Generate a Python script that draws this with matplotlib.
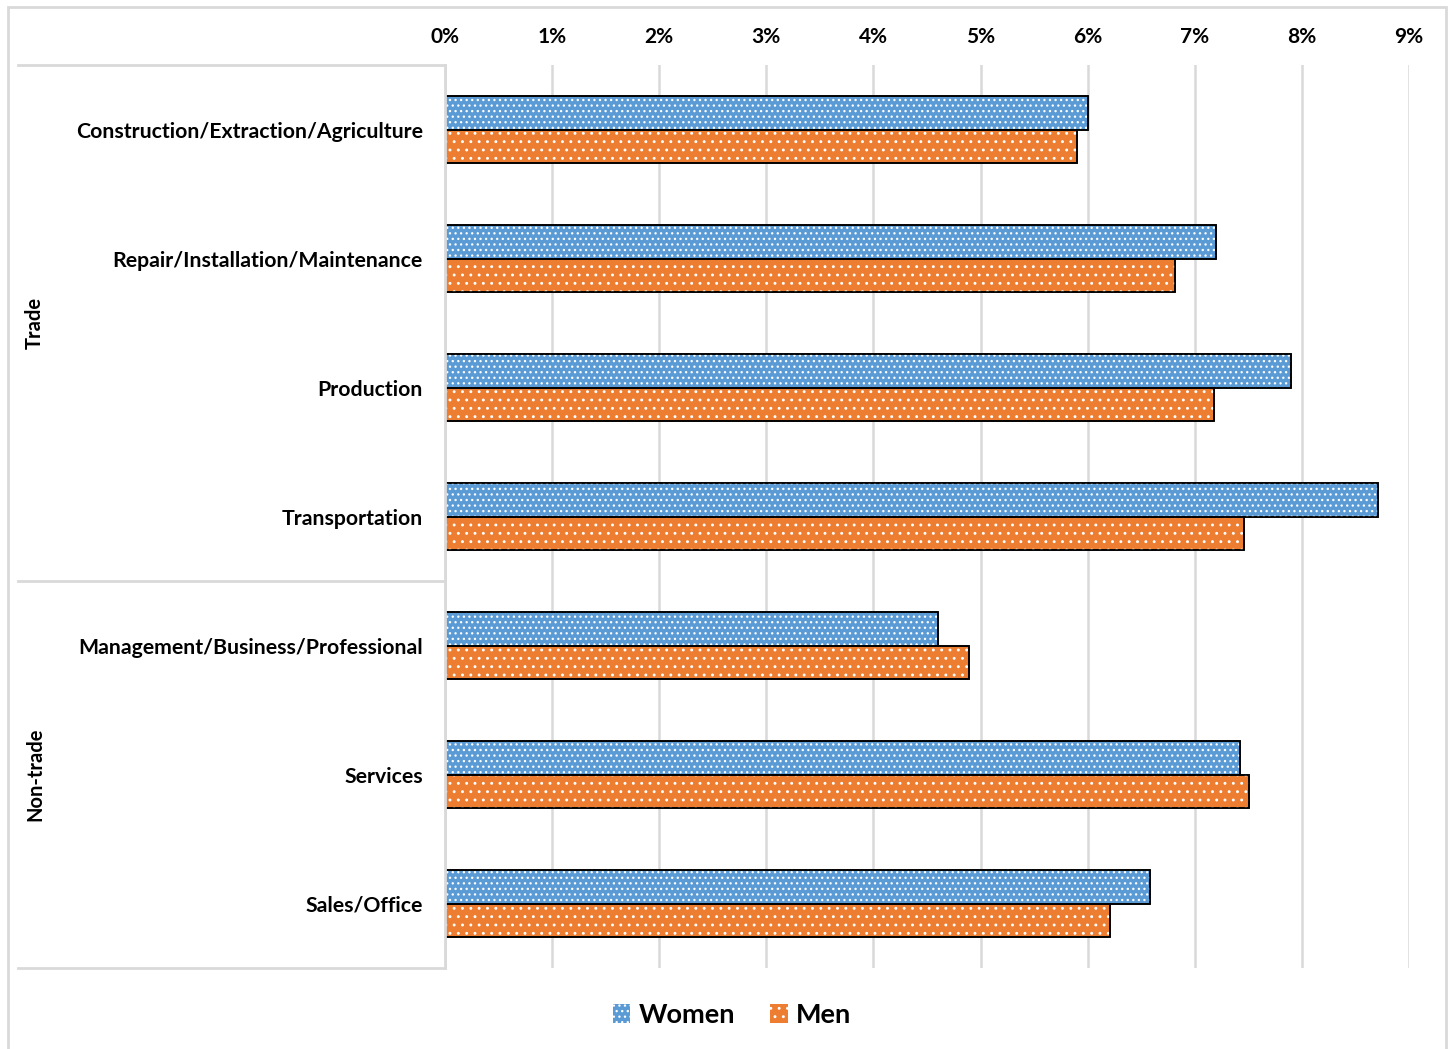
import numpy as np
import matplotlib.pyplot as plt
from matplotlib.patches import Rectangle
from matplotlib.ticker import PercentFormatter

plt.rcParams['font.family'] = ['Lato', 'DejaVu Sans']
plt.rcParams['hatch.linewidth'] = 0.9

# Данные
categories = ["Construction/Extraction/Agriculture", "Repair/Installation/Maintenance",
              "Production", "Transportation",
              "Management/Business/Professional", "Services", "Sales/Office"]
groups = ["Trade", "Non-trade"]
group_sizes = [4, 3]
women = [6.0, 7.2, 7.9, 8.71, 4.6, 7.42, 6.58]
men = [5.9, 6.82, 7.18, 7.46, 4.89, 7.51, 6.21]

blue = '#5B9BD5'
orange = '#ED7D31'
grey = '#D9D9D9'

W, H = 1448, 1049
fig = plt.figure(figsize=(W / 100, H / 100), dpi=100)

# рамка всей диаграммы
fig.patches.append(Rectangle((8 / W, -0.05), (1446 - 8) / W, 1.05 - 7 / H,
                             transform=fig.transFigure, fill=False,
                             edgecolor=grey, linewidth=2))

ax = fig.add_axes([445 / W, (H - 968) / H, 964 / W, 903 / H])

y = np.arange(len(categories))
h = 0.26


def hatched_bars(ypos, vals, color, hatch, label):
    ax.barh(ypos, vals, height=h, color=color, edgecolor='black', linewidth=1.2, zorder=3)
    ax.barh(ypos, vals, height=h, fill=False, hatch=hatch, edgecolor='white',
            linewidth=0, zorder=4)
    ax.barh(ypos, vals, height=h, fill=False, edgecolor='black', linewidth=1.2, zorder=5)
    # элемент легенды
    return Rectangle((0, 0), 1, 1, facecolor=color, hatch=hatch, edgecolor='white',
                     linewidth=0, label=label)


hw = hatched_bars(y - h / 2, women, blue, '...', 'Women')
hm = hatched_bars(y + h / 2, men, orange, '..', 'Men')

ax.set_xlim(0, 9)
ax.set_ylim(len(categories) - 0.5, -0.5)
ax.xaxis.set_major_formatter(PercentFormatter(decimals=0))
ax.set_xticks(range(10))
ax.xaxis.tick_top()
ax.tick_params(axis='x', length=0, pad=13, labelsize=15)
ax.tick_params(axis='y', length=0, pad=16, labelsize=15.3)
for lab in ax.get_xticklabels() + ax.get_yticklabels():
    lab.set_fontweight('bold')
ax.set_yticks(y)
ax.set_yticklabels(categories)
ax.grid(axis='x', color=grey, linewidth=1.8, zorder=0)
ax.set_axisbelow(True)
for s in ['top', 'right', 'bottom']:
    ax.spines[s].set_visible(False)
ax.spines['left'].set_color(grey)
ax.spines['left'].set_linewidth(2)
ax.spines['left'].set_zorder(6)

# разделители групп и подписи групп
x_left = (18 - 445) / 964
trans = ax.get_yaxis_transform()
bounds = np.concatenate([[0], np.cumsum(group_sizes)]) - 0.5
for b in bounds:
    ax.plot([x_left, 0], [b, b], color=grey, linewidth=2, transform=trans, clip_on=False)
for g, lo, hi in zip(groups, bounds[:-1], bounds[1:]):
    ax.text((35 - 445) / 964, (lo + hi) / 2, g, transform=trans, rotation=90,
            ha='center', va='center', fontsize=14.5, fontweight='bold')

fig.legend(handles=[hw, hm], loc='center', bbox_to_anchor=(732 / W, 1 - 1015 / H),
           ncol=2, frameon=False, prop={'size': 19.5, 'weight': 'bold'},
           handlelength=0.65, handleheight=0.65, handletextpad=0.3, columnspacing=1.3)

fig.savefig('out.png', dpi=100)
